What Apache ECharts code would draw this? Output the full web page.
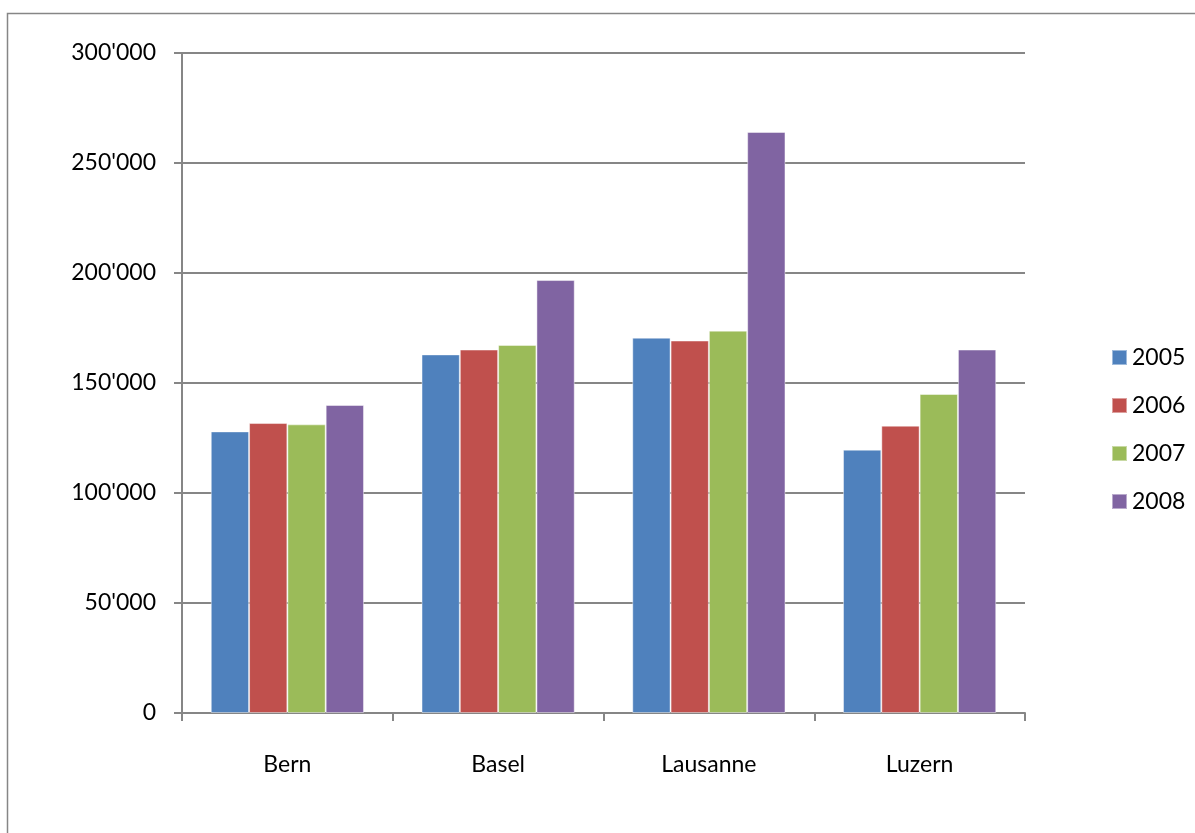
<!DOCTYPE html>
<html>
<head>
<meta charset="utf-8">
<script src="https://cdn.jsdelivr.net/npm/echarts@6/dist/echarts.min.js"></script>
<style>
html,body{margin:0;padding:0;background:#fff;}
#chart{width:1195px;height:833px;}
</style>
</head>
<body>
<div id="chart"></div>
<script>
const categories = ['Bern', 'Basel', 'Lausanne', 'Luzern'];
const seriesNames = ['2005', '2006', '2007', '2008'];
const values2005 = [128000, 163000, 170600, 119700];
const values2006 = [131800, 165200, 169300, 130600];
const values2007 = [131200, 167300, 173800, 145000];
const values2008 = [140000, 196800, 264100, 165200];
const colors = ['#4F81BD', '#C0504D', '#9BBB59', '#8064A2'];

const allValues = [values2005, values2006, values2007, values2008];

function fmt(v) {
  return String(v).replace(/\B(?=(\d{3})+(?!\d))/g, "'");
}

const chart = echarts.init(document.getElementById('chart'));
chart.setOption({
  animation: false,
  backgroundColor: '#fff',
  textStyle: { fontFamily: 'Lato' },
  graphic: [{
    type: 'rect',
    shape: { x: 7.5, y: 13.5, width: 1250, height: 900 },
    style: { fill: 'none', stroke: '#868686', lineWidth: 1.5 },
    silent: true,
    z: -1
  }],
  grid: { left: 182, right: 170, top: 53, bottom: 120, containLabel: false },
  legend: {
    orient: 'vertical',
    left: 1106,
    top: 341,
    itemWidth: 15,
    itemHeight: 15,
    itemGap: 25,
    icon: 'rect',
    textStyle: { fontFamily: 'Lato', fontSize: 23, color: '#000' },
    data: seriesNames
  },
  xAxis: {
    type: 'category',
    data: categories,
    axisLine: { lineStyle: { color: '#868686', width: 2 } },
    axisTick: { show: true, length: 8, lineStyle: { color: '#868686', width: 2 } },
    axisLabel: { margin: 40, fontFamily: 'Lato', fontSize: 23, color: '#000' }
  },
  yAxis: {
    type: 'value',
    min: 0,
    max: 300000,
    interval: 50000,
    axisLine: { show: true, lineStyle: { color: '#868686', width: 2 } },
    axisTick: { show: true, length: 8, lineStyle: { color: '#868686', width: 2 } },
    splitLine: { show: true, lineStyle: { color: '#868686', width: 2 } },
    axisLabel: { margin: 26, fontFamily: 'Lato', fontSize: 23, color: '#000', formatter: fmt }
  },
  series: seriesNames.map((name, i) => ({
    name: name,
    type: 'bar',
    data: allValues[i],
    barGap: '0%',
    barCategoryGap: '27.3%',
    itemStyle: { color: colors[i], borderColor: 'rgba(255,255,255,0.45)', borderWidth: 1 }
  }))
});
</script>
</body>
</html>
